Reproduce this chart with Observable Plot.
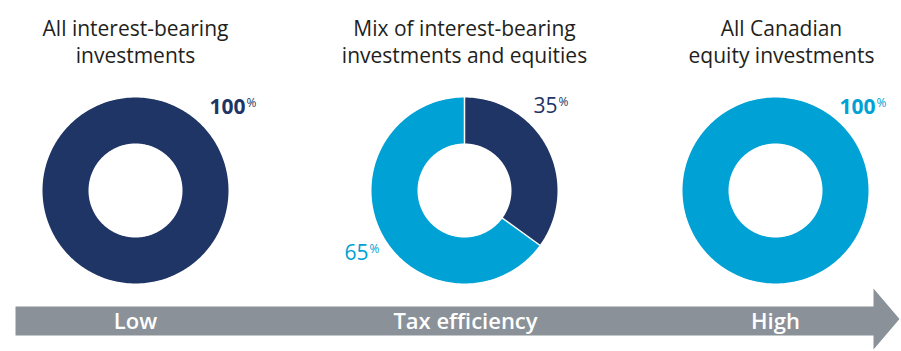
<!DOCTYPE html>
<html>
<head>
<meta charset="utf-8">
<script src="https://cdn.jsdelivr.net/npm/d3@7"></script>
<script src="https://cdn.jsdelivr.net/npm/@observablehq/plot@0.6"></script>
<style>
  html, body { margin: 0; padding: 0; background: #fff; }
  #chart { width: 901px; height: 351px; overflow: hidden; }
</style>
</head>
<body>
<div id="chart"></div>
<script>
// ---- data ----
const panels = [
  "All interest-bearing\ninvestments",
  "Mix of interest-bearing\ninvestments and equities",
  "All Canadian\nequity investments"
];
const interestBearing = [100, 35, 0];
const equities = [0, 65, 100];
const seriesNames = ["Interest-bearing", "Equities"];
const scaleLabels = ["Low", "Tax efficiency", "High"];

// ---- layout / style ----
const W = 901, H = 351;
const NAVY = "#1f3565", BLUE = "#00a1d4", GREY = "#8a9198", TEXT = "#231f20";
const FONT = "'Open Sans', Lato, sans-serif";
const centers = [135, 464, 775];
const titleX = [135, 464, 781];
const scaleX = [135, 465, 775];
const CY = 190, R_OUT = 93, R_IN = 47;
// label offsets (number end point / baseline) relative to donut center, per panel & series
const labelOffsets = {
  "0-Interest-bearing": [110, -77],
  "1-Interest-bearing": [93, -78],
  "1-Equities": [-96, 69],
  "2-Equities": [100, -77]
};
const ARROW = {x0: 15, x1: 873, tip: 899, top: 306, bottom: 335, headTop: 288, headBottom: 349};

// ---- build geometry from values ----
const slicePts = [], separators = [], labels = [];
panels.forEach((p, i) => {
  const vals = [interestBearing[i], equities[i]];
  const cx = centers[i];
  let acc = 0;
  const nonZero = vals.filter(v => v > 0).length;
  vals.forEach((v, s) => {
    if (v <= 0) return;
    const type = seriesNames[s];
    const key = `${i}-${type}`;
    const a0 = acc / 100 * 2 * Math.PI, a1 = (acc + v) / 100 * 2 * Math.PI;
    acc += v;
    const n = Math.max(2, Math.ceil(v * 3.6));
    for (let j = 0; j <= n; j++) {
      const a = a0 + (a1 - a0) * j / n;
      slicePts.push({key, type, x: cx + R_OUT * Math.sin(a), y: CY - R_OUT * Math.cos(a)});
    }
    for (let j = n; j >= 0; j--) {
      const a = a0 + (a1 - a0) * j / n;
      slicePts.push({key, type, x: cx + R_IN * Math.sin(a), y: CY - R_IN * Math.cos(a)});
    }
    if (nonZero > 1) {
      separators.push({x1: cx + (R_IN - 1) * Math.sin(a0), y1: CY - (R_IN - 1) * Math.cos(a0),
                       x2: cx + (R_OUT + 1) * Math.sin(a0), y2: CY - (R_OUT + 1) * Math.cos(a0)});
    }
    const off = labelOffsets[key] || [0, 0];
    labels.push({type, value: v, x: cx + off[0], y: CY + off[1], full: v === 100});
  });
});

const arrowPts = [
  {x: ARROW.x0, y: ARROW.top}, {x: ARROW.x1, y: ARROW.top}, {x: ARROW.x1, y: ARROW.headTop},
  {x: ARROW.tip, y: (ARROW.headTop + ARROW.headBottom) / 2}, {x: ARROW.x1, y: ARROW.headBottom},
  {x: ARROW.x1, y: ARROW.bottom}, {x: ARROW.x0, y: ARROW.bottom}
];

const chart = Plot.plot({
  width: W, height: H, margin: 0,
  x: {domain: [0, W], range: [0, W], axis: null},
  y: {domain: [0, H], range: [0, H], axis: null},
  color: {domain: seriesNames, range: [NAVY, BLUE]},
  style: {background: "#fff", fontFamily: FONT},
  marks: [
    // donut slices
    Plot.line(slicePts, {x: "x", y: "y", z: "key", fill: "type", stroke: "none", curve: "linear-closed"}),
    Plot.link(separators, {x1: "x1", y1: "y1", x2: "x2", y2: "y2", stroke: "white", strokeWidth: 1.5}),
    // value labels
    Plot.text(labels.filter(d => d.full), {x: "x", y: "y", text: d => String(d.value), fill: "type", textAnchor: "end",
      lineAnchor: "bottom", fontSize: 21, fontWeight: 700, fontFamily: FONT}),
    Plot.text(labels.filter(d => !d.full), {x: "x", y: "y", text: d => String(d.value), fill: "type", textAnchor: "end",
      lineAnchor: "bottom", fontSize: 21, fontWeight: 500, fontFamily: FONT}),
    Plot.text(labels, {x: "x", y: "y", text: () => "%", fill: "type", textAnchor: "start", dx: 1, dy: -7,
      lineAnchor: "bottom", fontSize: 12, fontWeight: 400, fontFamily: FONT}),
    // titles
    Plot.text(panels, {x: (d, i) => titleX[i], y: 62, text: d => d, lineAnchor: "bottom",
      lineHeight: 1.25, fontSize: 21, fill: TEXT, fontFamily: FONT}),
    // arrow
    Plot.line(arrowPts, {x: "x", y: "y", fill: GREY, stroke: "none", curve: "linear-closed"}),
    Plot.text(scaleLabels, {x: (d, i) => scaleX[i], y: 328, text: d => d, lineAnchor: "bottom",
      fontSize: 22, fontWeight: 600, fill: "white", fontFamily: FONT})
  ]
});
document.getElementById("chart").appendChild(chart);
</script>
</body>
</html>
